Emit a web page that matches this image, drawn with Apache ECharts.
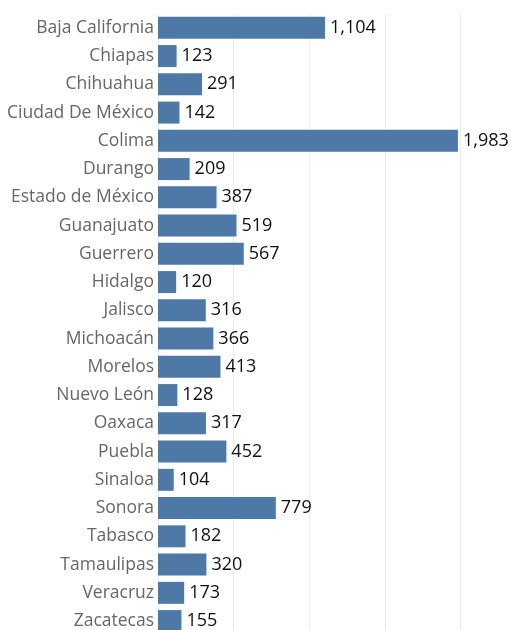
<!DOCTYPE html>
<html>
<head>
<meta charset="utf-8">
<script src="https://cdn.jsdelivr.net/npm/echarts@6/dist/echarts.min.js"></script>
<style>
  html, body { margin: 0; padding: 0; background: #fff; }
  #chart { width: 512px; height: 630px; }
</style>
</head>
<body>
<div id="chart"></div>
<script>
// 各州数值，自上而下
const states = [
  'Baja California', 'Chiapas', 'Chihuahua', 'Ciudad De México', 'Colima', 'Durango',
  'Estado de México', 'Guanajuato', 'Guerrero', 'Hidalgo', 'Jalisco', 'Michoacán',
  'Morelos', 'Nuevo León', 'Oaxaca', 'Puebla', 'Sinaloa', 'Sonora', 'Tabasco',
  'Tamaulipas', 'Veracruz', 'Zacatecas',
];
const values = [
  1104, 123, 291, 142, 1983, 209,
  387, 519, 567, 120, 316, 366,
  413, 128, 317, 452, 104, 779, 182,
  320, 173, 155,
];

const chart = echarts.init(document.getElementById('chart'));
chart.setOption({
  animation: false,
  backgroundColor: '#fff',
  textStyle: { fontFamily: 'Open Sans' },
  // 最后一行被画布裁掉一截，grid 高度故意超出画布；关掉 v6 的外边界收缩
  grid: {
    left: 158, right: 51.5, top: 13.7, height: 621.5,
    containLabel: false, outerBoundsMode: 'none',
  },
  xAxis: {
    type: 'value', min: 0, max: 2000, interval: 500,
    axisLabel: { show: false },
    axisLine: { show: false },
    axisTick: { show: false },
    splitLine: { lineStyle: { color: '#ececec', width: 1 } },
  },
  yAxis: {
    type: 'category', data: states, inverse: true,
    axisLine: { show: false },
    axisTick: { show: false },
    axisLabel: { color: '#666', fontSize: 17.5, margin: 4, fontFamily: 'Open Sans' },
  },
  series: [{
    type: 'bar',
    data: values,
    barWidth: 22,
    itemStyle: { color: '#4e79a7' },
    label: {
      show: true, position: 'right', distance: 5,
      color: '#111', fontSize: 18, fontFamily: 'Open Sans',
      formatter: p => p.value.toLocaleString('en-US'),
    },
  }],
});
</script>
</body>
</html>
